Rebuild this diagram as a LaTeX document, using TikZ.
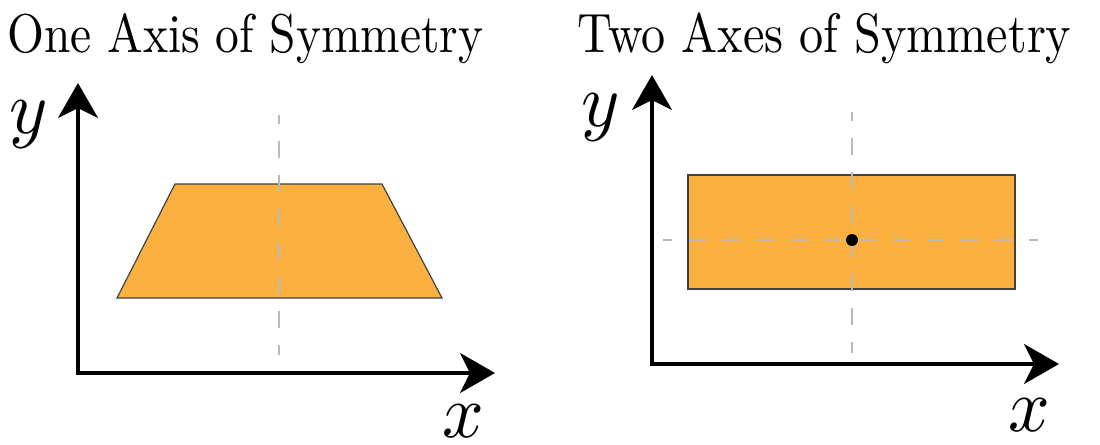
\documentclass[tikz,border=0pt]{standalone}
\usepackage{graphicx}
\usetikzlibrary{arrows.meta}
\definecolor{shapefill}{RGB}{251,176,64}
\definecolor{dashgray}{RGB}{185,185,185}
\tikzset{
  axisline/.style={line width=1.6pt, line join=miter,
    {Stealth[length=17.5pt,width=20pt,inset=5pt]}-{Stealth[length=17.5pt,width=20pt,inset=5pt]}},
  symfig/.style={fill=shapefill, draw=black!75, line width=0.6pt},
  symaxis/.style={draw=dashgray, line width=0.8pt, dash pattern=on 8.5pt off 8.5pt, dash phase=4.25pt},
  axlabel/.style={inner sep=0pt, font=\fontsize{10}{12}\selectfont},
  ttl/.style={inner sep=0pt, anchor=base west, font=\fontsize{10}{12}\selectfont},
  centre/.style={circle, fill=black, inner sep=0pt, minimum size=6pt}
}
\newcommand{\axl}[1]{\scalebox{3.65}[3.8]{$#1$}}
\newcommand{\ttltext}[2]{\scalebox{1}[1.15]{\resizebox{#1}{!}{#2}}}
\begin{document}
\begin{tikzpicture}[x=0.5pt,y=-0.5pt]
\useasboundingbox (0,0) rectangle (1100,445);
% titles
\node[ttl] (t1) at (7,52) {\ttltext{238pt}{One Axis of Symmetry}};
\node[ttl] (t2) at (577,52) {\ttltext{247pt}{Two Axes of Symmetry}};
% left panel
\coordinate (o1) at (78,373);
\coordinate (xt1) at (495,373);
\coordinate (yt1) at (78,83);
\draw[symfig] (175,184) -- (382,184) -- (442,298) -- (117,298) -- cycle;
\coordinate (v1a) at (279,115);
\coordinate (v1b) at (279,355);
\draw[symaxis] (v1a) -- (v1b);
\draw[axisline] (yt1) -- (o1) -- (xt1);
\node[axlabel] (ly1) at (29,125) {\axl{y}};
\node[axlabel] (lx1) at (463,421) {\axl{x}};
% right panel
\coordinate (o2) at (652,364);
\coordinate (xt2) at (1059,364);
\coordinate (yt2) at (652,75);
\draw[symfig] (688,175) rectangle (1015,289);
\coordinate (v2a) at (852,112);
\coordinate (v2b) at (852,353);
\coordinate (h2a) at (663,240);
\coordinate (h2b) at (1038,240);
\draw[symaxis] (v2a) -- (v2b);
\draw[symaxis] (h2a) -- (h2b);
\node[centre] (c2) at (852,240) {};
\draw[axisline] (yt2) -- (o2) -- (xt2);
\node[axlabel] (ly2) at (601,118) {\axl{y}};
\node[axlabel] (lx2) at (1029,415) {\axl{x}};
\end{tikzpicture}
\end{document}
